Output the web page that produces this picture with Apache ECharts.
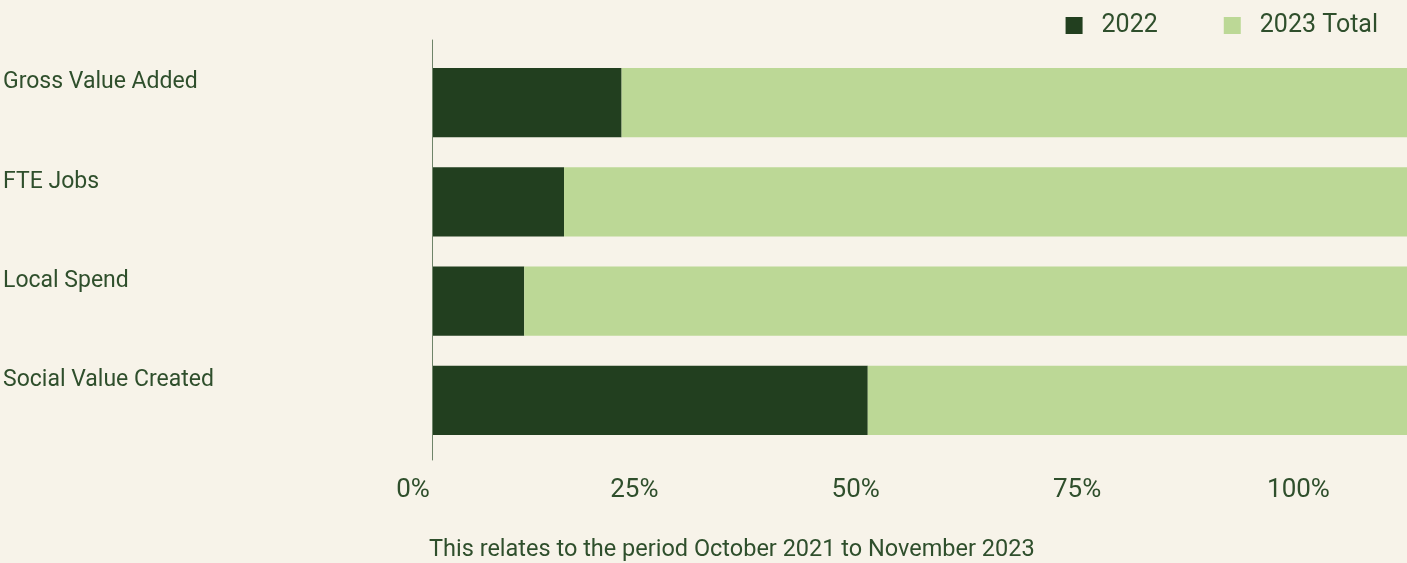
<!DOCTYPE html>
<html><head><meta charset="utf-8">
<script src="https://cdn.jsdelivr.net/npm/echarts@6/dist/echarts.min.js"></script>
<style>html,body{margin:0;padding:0;background:#f7f3e9;}#c{width:1407px;height:563px;}</style>
</head><body><div id="c"></div>
<script>
const categories = ['Gross Value Added', 'FTE Jobs', 'Local Spend', 'Social Value Created'];
const values2022 = [21.3, 14.8, 10.3, 49.1];
const values2023Total = [88.7, 95.2, 99.7, 60.9];
const tickValues = [0, 25, 50, 75, 100];

const FONT = 'Roboto';
const TXT = '#2f4f2c';
const chart = echarts.init(document.getElementById('c'));
chart.setOption({
  backgroundColor: '#f7f3e9',
  animation: false,
  textStyle: { fontFamily: FONT },
  legend: {
    top: 8, right: 24, itemWidth: 17, itemHeight: 17, itemGap: 66, icon: 'rect',
    textStyle: { fontFamily: FONT, fontSize: 25, color: TXT, padding: [0, 0, 0, 14] },
    data: ['2022', '2023 Total']
  },
  title: {
    text: 'This relates to the period October 2021 to November 2023',
    left: 424, bottom: -4,
    textStyle: { fontFamily: FONT, fontSize: 23.5, fontWeight: 'normal', color: TXT }
  },
  grid: [
    { left: 432, right: 0, top: 53, height: 397 },
    { left: 432, right: 0, top: 40, height: 420 }
  ],
  xAxis: [{
    type: 'value', min: 0, max: 110, interval: 25, gridIndex: 0,
    splitLine: { show: false }, axisLine: { show: false }, axisTick: { show: false },
    axisLabel: {
      showMaxLabel: false, margin: 27, padding: [0, 40, 0, 0],
      fontFamily: FONT, fontSize: 26, color: TXT,
      formatter: v => tickValues.indexOf(v) >= 0 ? v + '%' : ''
    }
  }, {
    type: 'value', gridIndex: 1, show: false
  }],
  yAxis: [{
    type: 'category', data: categories, inverse: true, gridIndex: 0,
    axisLine: { show: false }, axisTick: { show: false },
    axisLabel: { align: 'left', verticalAlign: 'bottom', lineHeight: 40, margin: 430, fontFamily: FONT, fontSize: 23, color: TXT }
  }, {
    type: 'category', data: [''], gridIndex: 1,
    axisLine: { show: true, lineStyle: { color: '#6f8469', width: 1 } },
    axisTick: { show: false }, axisLabel: { show: false }
  }],
  series: [{
    name: '2022', type: 'bar', stack: 'a', barWidth: '70%',
    itemStyle: { color: '#223f1f' }, data: values2022
  }, {
    name: '2023 Total', type: 'bar', stack: 'a', barWidth: '70%',
    itemStyle: { color: '#bcd896' }, data: values2023Total
  }]
});
</script></body></html>
